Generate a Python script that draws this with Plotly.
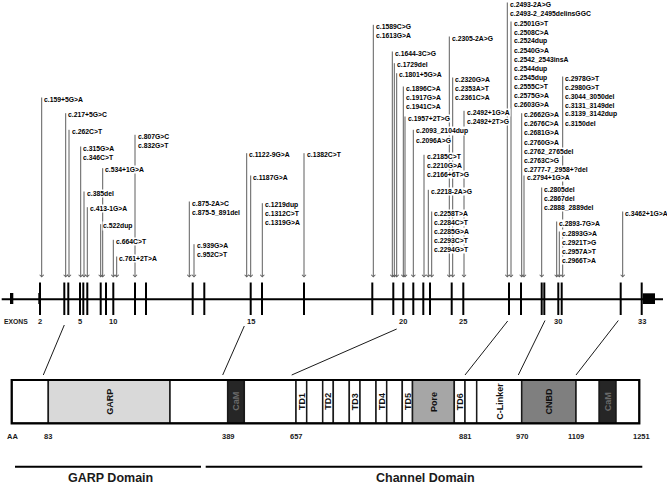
import plotly.graph_objects as go

W, H = 667, 486

# ---------------- data ----------------
# exon positions (diagram x) for exons 2..33
exon_x = [40, 64.3, 68.3, 80, 83.3, 87.3, 100.7, 106, 113.3, 135, 146, 192.7, 204.3,
          250.7, 262, 304, 372.3, 393.3, 403.3, 413.3, 423.3, 430, 451.7, 463.3,
          509, 521, 541.7, 544.3, 558.3, 561.7, 620.7, 641.7]
exon_first = 2
exon_label_nums = [2, 5, 10, 15, 20, 25, 30, 33]

# mutation groups: line x, top y, labels
mut_x = [41.7, 65.7, 69, 80.7, 102.7, 84, 87.3, 100.7, 113.3, 116.7, 135,
         189.3, 194, 246.7, 250.7, 262.3, 304,
         373.3, 392.3, 394.3, 396.7, 403.3, 405, 413.3, 424, 428.3, 431.7,
         449.3, 452.7, 464, 507.3, 511, 521.7, 524, 562.7, 541.7, 556.7, 559.3, 622.7]
mut_top = [96, 111.7, 128.3, 145, 166.7, 190, 205.7, 222.7, 238.3, 255, 133.3,
           200, 242.7, 151.7, 174, 201.7, 151.7,
           23.3, 50, 61.7, 71.7, 85, 115, 128.3, 153.3, 188.3, 210,
           35, 76, 109.3, 1, 20, 111.7, 174, 75, 186, 220, 230, 210]
mut_labels = [
    ["c.159+5G>A"], ["c.217+5G>C"], ["c.262C>T"], ["c.315G>A", "c.346C>T"],
    ["c.534+1G>A"], ["c.385del"], ["c.413-1G>A"], ["c.522dup"], ["c.664C>T"],
    ["c.761+2T>A"], ["c.807G>C", "c.832G>T"],
    ["c.875-2A>C", "c.875-5_891del"], ["c.939G>A", "c.952C>T"], ["c.1122-9G>A"],
    ["c.1187G>A"], ["c.1219dup", "c.1312C>T", "c.1319G>A"], ["c.1382C>T"],
    ["c.1589C>G", "c.1613G>A"], ["c.1644-3C>G"], ["c.1729del"], ["c.1801+5G>A"],
    ["c.1896C>A", "c.1917G>A", "c.1941C>A"], ["c.1957+2T>G"],
    ["c.2093_2104dup", "c.2096A>G"], ["c.2185C>T", "c.2210G>A", "c.2166+6T>G"],
    ["c.2218-2A>G"], ["c.2258T>A", "c.2284C>T", "c.2285G>A", "c.2293C>T", "c.2294G>T"],
    ["c.2305-2A>G"], ["c.2320G>A", "c.2353A>T", "c.2361C>A"],
    ["c.2492+1G>A", "c.2492+2T>G"],
    ["c.2493-2A>G", "c.2493-2_2495delinsGGC"],
    ["c.2501G>T", "c.2508C>A", "c.2524dup", "c.2540G>A", "c.2542_2543insA",
     "c.2544dup", "c.2545dup", "c.2555C>T", "c.2575G>A", "c.2603G>A"],
    ["c.2662G>A", "c.2676C>A", "c.2681G>A", "c.2760G>A", "c.2762_2765del",
     "c.2763C>G", "c.2777-7_2958+?del"],
    ["c.2794+1G>A"],
    ["c.2978G>T", "c.2980G>T", "c.3044_3050del", "c.3131_3149del",
     "c.3139_3142dup", "c.3150del"],
    ["c.2805del", "c.2867del", "c.2888_2889del"], ["c.2893-7G>A"],
    ["c.2893G>A", "c.2921T>G", "c.2957A>T", "c.2966T>A"], ["c.3462+1G>A"],
]

# protein segments
seg_x0 = [11.7, 48.3, 170, 227.7, 244.3, 296, 306.7, 322.7, 333.3, 349.3, 360, 376, 386.7,
          402.3, 412.5, 454.3, 465, 476.7, 521.7, 576, 599.3, 616]
seg_x1 = seg_x0[1:] + [639.3]
seg_fill = ["white", "#d9d9d9", "white", "#262626", "white", "white", "white", "white", "white",
            "white", "white", "white", "white", "white", "#a6a6a6", "white", "white", "white",
            "#7f7f7f", "white", "#262626", "white"]
seg_text = ["", "GARP", "", "CaM", "", "TD1", "", "TD2", "", "TD3", "", "TD4", "",
            "TD5", "Pore", "TD6", "", "C-Linker", "CNBD", "", "CaM", ""]

aa_labels = ["83", "389", "657", "881", "970", "1109", "1251"]
aa_x = [48.3, 228.7, 296.7, 465, 522.3, 576, 641.7]

# connectors exon -> protein
link_top_x = [64.3, 244.3, 396.7, 507.7, 545, 618.3]
link_top_y = [325, 326, 329, 321, 320.5, 320.5]
link_bot_x = [43.3, 222.7, 291.7, 465, 518.3, 576]

domain_names = ["GARP Domain", "Channel Domain"]
domain_x0 = [15, 205.7]
domain_x1 = [201, 642.3]
domain_cx = [110, 425]

# ---------------- geometry ----------------
LINE_Y = 299.3
TICK_Y0, TICK_Y1 = 282.5, 315
ARROW_TIP = 277.5
BOX_Y0, BOX_Y1 = 380, 423.3
ROW = 9.1

BOLD_FONT = "Liberation Sans, Arial, sans-serif"
LBL_FONT = dict(family=BOLD_FONT, size=6.8, color="#000000")

fig = go.Figure()

# exon ticks
tx, ty = [], []
for x in exon_x:
    tx += [x, x, None]
    ty += [TICK_Y0, TICK_Y1, None]
fig.add_trace(go.Scatter(x=tx, y=ty, mode="lines", line=dict(color="black", width=2),
                         hoverinfo="skip", showlegend=False))

shapes = []
shapes.append(dict(type="line", x0=1.7, x1=663, y0=LINE_Y, y1=LINE_Y,
                   line=dict(color="black", width=2), layer="below"))
shapes.append(dict(type="rect", x0=10, x1=13.3, y0=293, y1=304, fillcolor="black",
                   line=dict(width=0)))
shapes.append(dict(type="rect", x0=38.3, x1=40.8, y0=293, y1=304, fillcolor="black",
                   line=dict(width=0)))
shapes.append(dict(type="rect", x0=642.7, x1=655, y0=293.3, y1=304, fillcolor="black",
                   line=dict(width=0)))

# connectors
for a, ay_, b in zip(link_top_x, link_top_y, link_bot_x):
    shapes.append(dict(type="line", x0=a, y0=ay_, x1=b, y1=375,
                       line=dict(color="#1a1a1a", width=1)))

# protein segments
for x0, x1, f in zip(seg_x0, seg_x1, seg_fill):
    shapes.append(dict(type="rect", x0=x0, x1=x1, y0=BOX_Y0, y1=BOX_Y1, fillcolor=f,
                       line=dict(color="#1a1a1a", width=1.5)))
shapes.append(dict(type="rect", x0=seg_x0[0], x1=seg_x1[-1], y0=BOX_Y0, y1=BOX_Y1,
                   line=dict(color="black", width=2.2)))

# domain lines
for x0, x1 in zip(domain_x0, domain_x1):
    shapes.append(dict(type="line", x0=x0, x1=x1, y0=466.7, y1=466.7,
                       line=dict(color="black", width=2)))

ann = []
# arrows
for x, top in zip(mut_x, mut_top):
    ann.append(dict(x=x, y=ARROW_TIP, ax=x, ay=top, xref="x", yref="y", axref="x", ayref="y",
                    text="", showarrow=True, arrowhead=4, arrowsize=0.8, arrowwidth=1,
                    arrowcolor="#5e5e5e", standoff=0))
# labels
for x, top, labs in zip(mut_x, mut_top, mut_labels):
    for i, lab in enumerate(labs):
        ann.append(dict(x=x + 1.5, y=top + 3 + i * ROW, xref="x", yref="y",
                        text="<b>" + lab.replace(">", "&gt;") + "</b>", showarrow=False,
                        xanchor="left", yanchor="middle", font=LBL_FONT,
                        bgcolor="white", borderpad=0))

# exon numbers
small_bold = dict(family=BOLD_FONT, size=7.5, color="#1a1a1a")
ann.append(dict(x=1.5, y=321, text="<b>EXONS</b>", showarrow=False, xanchor="left",
                font=dict(family=BOLD_FONT, size=6.8, color="#1a1a1a"),
                xref="x", yref="y"))
for n in exon_label_nums:
    ann.append(dict(x=exon_x[n - exon_first], y=321, text="<b>%d</b>" % n, showarrow=False,
                    font=small_bold, xref="x", yref="y"))

# segment text
for x0, x1, t, f in zip(seg_x0, seg_x1, seg_text, seg_fill):
    if t:
        col = "#6a6a6a" if f == "#262626" else "#111111"
        ann.append(dict(x=(x0 + x1) / 2, y=(BOX_Y0 + BOX_Y1) / 2, text="<b>%s</b>" % t,
                        textangle=-90, showarrow=False, xref="x", yref="y",
                        font=dict(family=BOLD_FONT, size=9, color=col)))

# AA labels
ann.append(dict(x=12, y=436, text="<b>AA</b>", showarrow=False, font=small_bold,
                xref="x", yref="y"))
for t, x in zip(aa_labels, aa_x):
    ann.append(dict(x=x, y=436, text="<b>%s</b>" % t, showarrow=False, font=small_bold,
                    xref="x", yref="y"))

# domain names
for t, cx in zip(domain_names, domain_cx):
    ann.append(dict(x=cx, y=477.5, text="<b>%s</b>" % t, showarrow=False, xref="x", yref="y",
                    font=dict(family=BOLD_FONT, size=12.5, color="#1a1a1a")))

fig.update_layout(
    width=W, height=H, margin=dict(l=0, r=0, t=0, b=0),
    paper_bgcolor="white", plot_bgcolor="white",
    xaxis=dict(range=[0, W], visible=False, fixedrange=True),
    yaxis=dict(range=[H, 0], visible=False, fixedrange=True),
    shapes=shapes, annotations=ann, showlegend=False,
)

fig.write_html("out.html", config={"displayModeBar": False},
               post_script="document.body.style.margin='0';document.body.style.padding='0';"
                           "document.body.style.overflow='hidden';")
